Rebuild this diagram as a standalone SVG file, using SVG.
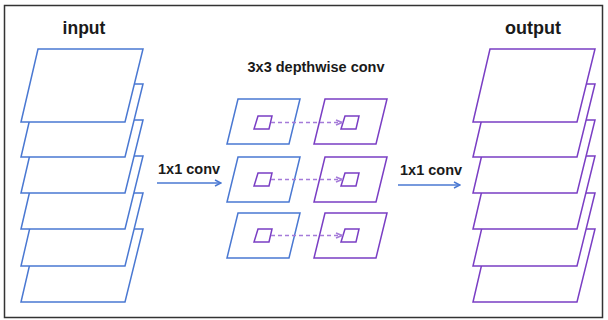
<svg xmlns="http://www.w3.org/2000/svg" width="608" height="320" viewBox="0 0 608 320">
<style>
.b{fill:#fff;stroke:#4a78d2;stroke-width:1.5;stroke-linejoin:miter}
.p{fill:#fff;stroke:#7a3ec4;stroke-width:1.5}
.sq{fill:none;stroke:#7a3ec4;stroke-width:1.5}
.t{font-family:"Liberation Sans",Arial,sans-serif;font-weight:bold;fill:#1a1a1a}
.arr{stroke:#4a78d2;stroke-width:1.5;fill:none}
.dash{stroke:#a57bd9;stroke-width:1.5;stroke-dasharray:4 3;fill:none}
</style>
<defs>
<marker id="ah" markerWidth="8" markerHeight="8" refX="7" refY="4" orient="auto" markerUnits="userSpaceOnUse">
<path d="M1,1 L7,4 L1,7" fill="none" stroke="#4a78d2" stroke-width="1.5"/>
</marker>
<marker id="ahp" markerWidth="8" markerHeight="8" refX="7" refY="4" orient="auto" markerUnits="userSpaceOnUse">
<path d="M1,1.5 L7,4 L1,6.5" fill="none" stroke="#a57bd9" stroke-width="1.5"/>
</marker>
<path id="big" d="M17,0 L122,0 L104,73 L0,73 Z"/>
<path id="mid" d="M11,0 L73,0 L62,45 L0,45 Z"/>
<path id="sm" d="M4,0 L18,0 L15,13 L0,13 Z"/>
</defs>
<rect x="4.5" y="5.5" width="598" height="312" fill="#fff" stroke="#333" stroke-width="1.5"/>

<g id="input">
<use href="#big" class="b" x="21" y="229"/>
<use href="#big" class="b" x="21" y="193"/>
<use href="#big" class="b" x="21" y="156"/>
<use href="#big" class="b" x="21" y="120"/>
<use href="#big" class="b" x="21" y="84"/>
<use href="#big" class="b" x="21" y="49"/>
<text class="t" x="84" y="34" font-size="17.5" text-anchor="middle">input</text>
</g>

<g id="output">
<use href="#big" class="p" x="473" y="229"/>
<use href="#big" class="p" x="473" y="193"/>
<use href="#big" class="p" x="473" y="156"/>
<use href="#big" class="p" x="473" y="120"/>
<use href="#big" class="p" x="473" y="84"/>
<use href="#big" class="p" x="473" y="49"/>
<text class="t" x="533" y="34" font-size="18" text-anchor="middle">output</text>
</g>

<g id="depthwise">
<text class="t" x="316" y="72" font-size="14.5" text-anchor="middle">3x3 depthwise conv</text>
<g id="row1">
<use href="#mid" class="b" x="227" y="99"/>
<use href="#mid" class="p" x="314" y="99"/>
<use href="#sm" class="sq" x="254" y="116"/>
<use href="#sm" class="sq" x="341" y="116"/>
</g>
<g id="row2">
<use href="#mid" class="b" x="227" y="157"/>
<use href="#mid" class="p" x="314" y="157"/>
<use href="#sm" class="sq" x="254" y="173"/>
<use href="#sm" class="sq" x="341" y="173"/>
</g>
<g id="row3">
<use href="#mid" class="b" x="227" y="213"/>
<use href="#mid" class="p" x="314" y="213"/>
<use href="#sm" class="sq" x="254" y="229"/>
<use href="#sm" class="sq" x="341" y="229"/>
</g>
</g>

<g id="connectors">
<line class="arr" x1="157" y1="183" x2="221" y2="183" marker-end="url(#ah)"/>
<text class="t" x="158" y="174" font-size="14.5">1x1 conv</text>
<line class="arr" x1="398" y1="185" x2="460" y2="185" marker-end="url(#ah)"/>
<text class="t" x="400" y="175" font-size="14.5">1x1 conv</text>
<line class="dash" x1="271" y1="122.5" x2="342" y2="122.5" marker-end="url(#ahp)"/>
<line class="dash" x1="271" y1="179.5" x2="342" y2="179.5" marker-end="url(#ahp)"/>
<line class="dash" x1="271" y1="235.5" x2="342" y2="235.5" marker-end="url(#ahp)"/>
</g>
</svg>
